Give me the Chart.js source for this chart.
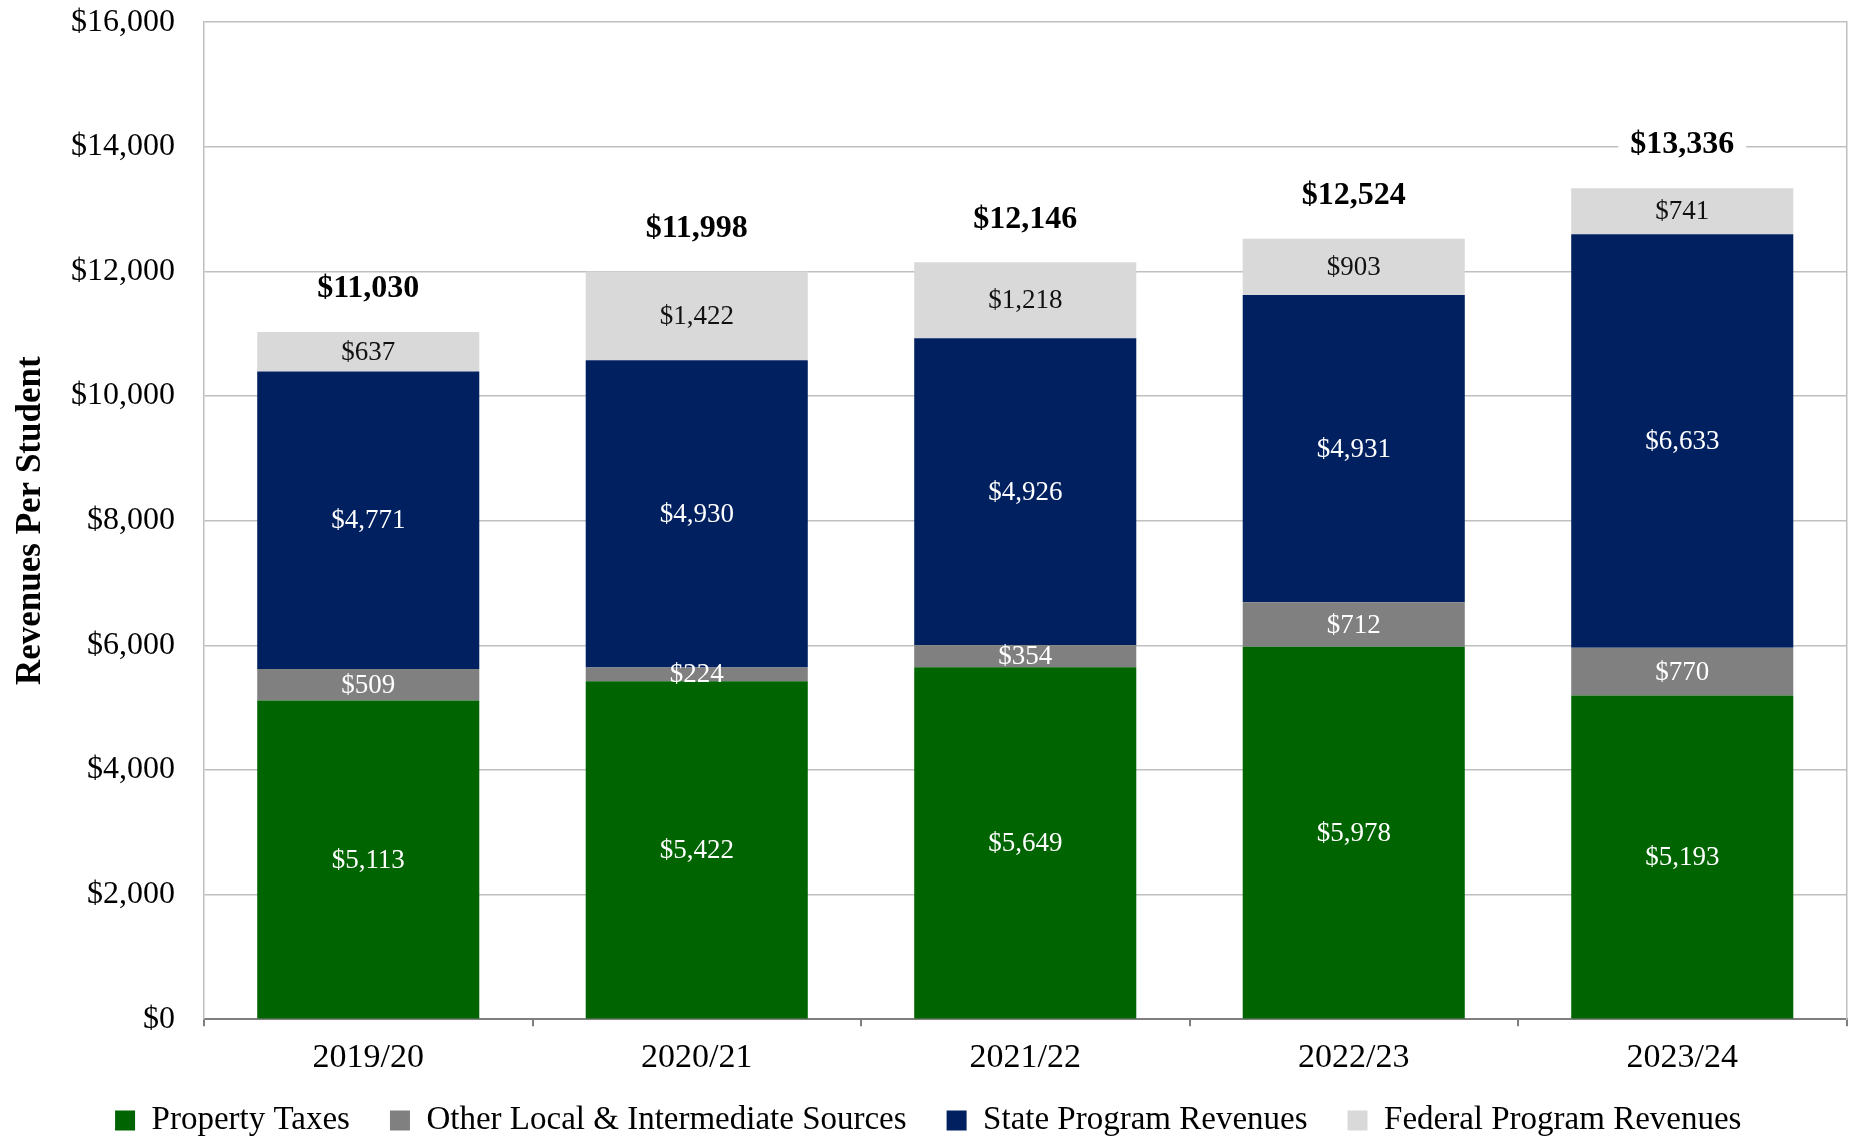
<!DOCTYPE html>
<html>
<head>
<meta charset="utf-8">
<script src="https://cdn.jsdelivr.net/npm/chart.js@4/dist/chart.umd.min.js"></script>
<style>
  html, body { margin: 0; padding: 0; background: #fff; }
  #wrap { width: 1862px; height: 1136px; }
</style>
</head>
<body>
<div id="wrap"><canvas id="revenue-chart" width="1862" height="1136"></canvas></div>
<script>
const years = ['2019/20', '2020/21', '2021/22', '2022/23', '2023/24'];
const propertyTaxes = [5113, 5422, 5649, 5978, 5193];
const otherLocal = [509, 224, 354, 712, 770];
const stateProgram = [4771, 4930, 4926, 4931, 6633];
const federalProgram = [637, 1422, 1218, 903, 741];
const totals = [11030, 11998, 12146, 12524, 13336];
const yTicks = [0, 2000, 4000, 6000, 8000, 10000, 12000, 14000, 16000];

const FONT = '"Liberation Serif", "DejaVu Serif", serif';

function money(v) {
    return '$' + v.toLocaleString('en-US');
}

// draws the segment values and the bold totals, placed from the bar elements
const barLabels = {
    id: 'barLabels',
    afterDatasetsDraw(chart) {
        const ctx = chart.ctx;
        ctx.save();
        ctx.textAlign = 'center';
        ctx.textBaseline = 'middle';
        ctx.font = '27px ' + FONT;
        chart.data.datasets.forEach((ds, i) => {
            const meta = chart.getDatasetMeta(i);
            meta.data.forEach((bar, j) => {
                const p = bar.getProps(['x', 'y', 'base'], true);
                ctx.fillStyle = ds.labelColor;
                ctx.fillText(money(ds.data[j]), p.x, (p.y + p.base) / 2 + 1);
            });
        });
        const top = chart.getDatasetMeta(chart.data.datasets.length - 1);
        ctx.font = 'bold 32px ' + FONT;
        top.data.forEach((bar, j) => {
            const p = bar.getProps(['x', 'y'], true);
            const text = money(totals[j]);
            const w = ctx.measureText(text).width;
            ctx.fillStyle = '#fff';
            ctx.fillRect(p.x - w / 2 - 12, p.y - 43 - 14, w + 24, 28);
            ctx.fillStyle = '#000';
            ctx.fillText(text, p.x, p.y - 43);
        });
        ctx.restore();
    }
};

// legend sits a little closer to the axis labels than its padding allows
const liftLegend = {
    id: 'liftLegend',
    afterLayout(chart) {
        chart.legend.top -= 25;
        chart.legend.bottom -= 25;
    }
};

function main() {
    const canvas = document.querySelector('#revenue-chart');

    new Chart(canvas.getContext('2d'), {
        type: 'bar',
        data: {
            labels: years,
            datasets: [
                { label: 'Property Taxes', data: propertyTaxes, backgroundColor: '#006400', labelColor: '#fff' },
                { label: 'Other Local & Intermediate Sources', data: otherLocal, backgroundColor: '#808080', labelColor: '#fff' },
                { label: 'State Program Revenues', data: stateProgram, backgroundColor: '#002060', labelColor: '#fff' },
                { label: 'Federal Program Revenues', data: federalProgram, backgroundColor: '#d9d9d9', labelColor: '#111' },
            ]
        },
        options: {
            responsive: false,
            animation: false,
            layout: { padding: { left: 10, right: 15.5, top: 0, bottom: -36 } },
            datasets: { bar: { categoryPercentage: 0.676, barPercentage: 1 } },
            plugins: {
                legend: {
                    position: 'bottom',
                    labels: {
                        font: { family: FONT, size: 33 },
                        color: '#000',
                        boxWidth: 20,
                        boxHeight: 20,
                        padding: 40,
                    }
                },
                tooltip: { enabled: false },
            },
            scales: {
                x: {
                    stacked: true,
                    grid: { drawOnChartArea: false, drawTicks: true, tickLength: 7, color: '#7f7f7f', lineWidth: 2 },
                    border: { color: '#7f7f7f', width: 2 },
                    ticks: { font: { family: FONT, size: 34 }, color: '#000', padding: 11 },
                },
                y: {
                    stacked: true,
                    min: 0,
                    max: 16000,
                    afterBuildTicks: axis => { axis.ticks = yTicks.map(v => ({ value: v })); },
                    grid: { color: '#bfbfbf', lineWidth: 1.5, drawTicks: true, tickLength: 26, tickColor: 'rgba(0,0,0,0)' },
                    border: { color: '#bfbfbf', width: 1.5 },
                    ticks: { font: { family: FONT, size: 32 }, color: '#000', padding: 3, callback: v => money(v) },
                    title: {
                        display: true,
                        text: 'Revenues Per Student',
                        font: { family: FONT, size: 35, weight: 'bold' },
                        color: '#000',
                        padding: { top: 0, bottom: 16 },
                    },
                },
                y2: {
                    position: 'right',
                    min: 0,
                    max: 16000,
                    grid: { display: false, drawTicks: false },
                    border: { color: '#bfbfbf', width: 1.5 },
                    ticks: { display: false },
                },
            }
        },
        plugins: [barLabels, liftLegend]
    });
}

main()
</script>
</body>
</html>
